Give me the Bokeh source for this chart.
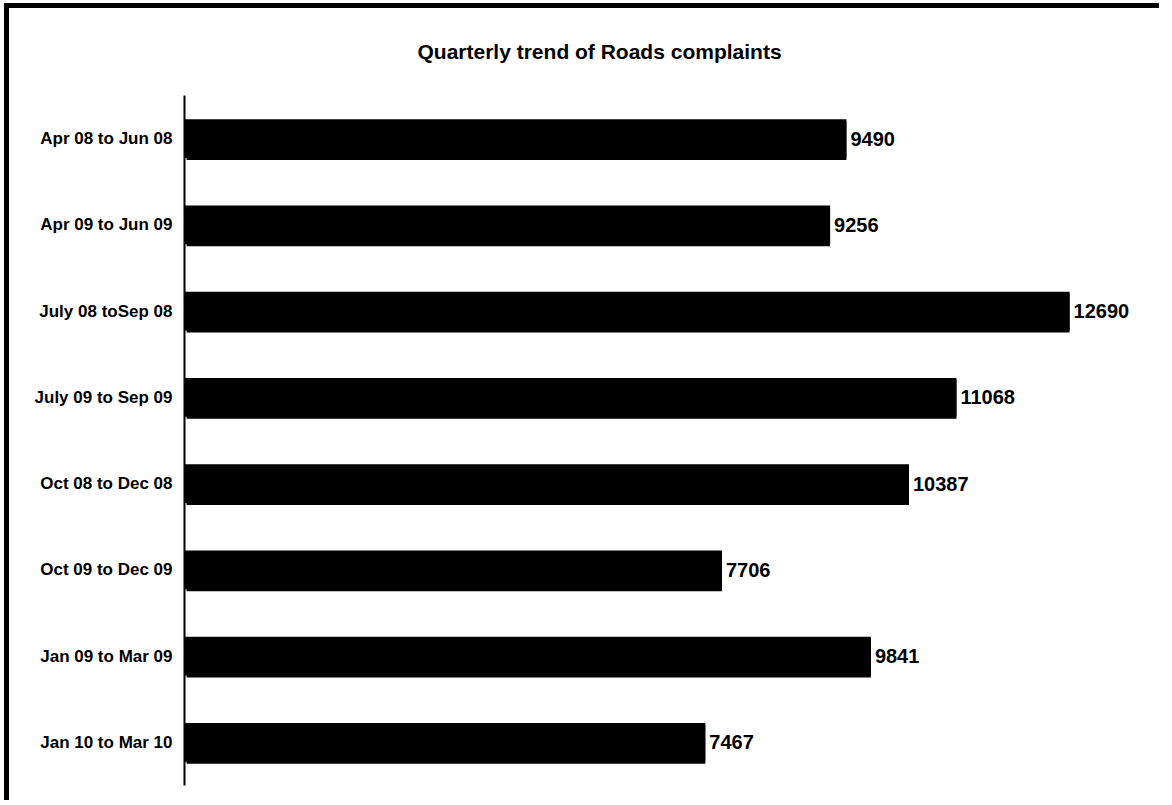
from bokeh.plotting import figure
from bokeh.models import FactorRange, Range1d, ColumnDataSource, LabelSet
from bokeh.core.properties import value
from bokeh.transform import dodge
from bokeh.embed import file_html
from bokeh.resources import INLINE

periods = ["Apr 08 to Jun 08", "Apr 09 to Jun 09", "July 08 toSep 08", "July 09 to Sep 09",
           "Oct 08 to Dec 08", "Oct 09 to Dec 09", "Jan 09 to Mar 09", "Jan 10 to Mar 10"]
complaints = [9490, 9256, 12690, 11068, 10387, 7706, 9841, 7467]
title_text = "Quarterly trend of  Roads complaints"

FONT = "Liberation Sans"
W, H = 1155, 797

src = ColumnDataSource(dict(period=periods, value=complaints,
                            label=[str(v) for v in complaints]))

p = figure(width=W, height=H, output_backend="svg", toolbar_location=None,
           y_range=FactorRange(*reversed(periods), range_padding=0),
           x_range=Range1d(0, 13850),
           min_border_left=175, min_border_right=14, min_border_top=85, min_border_bottom=20,
           title=title_text)

p.stylesheets = [":host { margin-left: 9px; margin-top: 8px; box-shadow: -5px -5px 0 0 black; }"]

# shadow bar then main bar
p.hbar(y=dodge("period", -0.022, range=p.y_range), left=30, right="value", height=0.45,
       source=src, color="black", line_color=None)
p.hbar(y=dodge("period", 0.0, range=p.y_range), left=0, right="value", height=0.45,
       source=src, color="black", line_color=None)

labels = LabelSet(x="value", y="period", text="label", source=src, x_offset=4,
                  text_baseline="middle", text_font=value(FONT), text_font_style="bold",
                  text_font_size="20px", text_color="black")
p.add_layout(labels)

p.xaxis.visible = False
p.grid.visible = False
p.outline_line_color = None
p.yaxis.axis_line_color = "black"
p.yaxis.axis_line_width = 2
p.yaxis.major_tick_line_color = None
p.yaxis.minor_tick_line_color = None
p.yaxis.major_tick_out = 0
p.yaxis.major_tick_in = 0
p.yaxis.major_label_standoff = 12
p.yaxis.major_label_text_font = FONT
p.yaxis.major_label_text_font_style = "bold"
p.yaxis.major_label_text_font_size = "17px"
p.yaxis.major_label_text_color = "black"

p.title.text_font = FONT
p.title.text_font_style = "bold"
p.title.text_font_size = "21px"
p.title.align = "left"
p.title.offset = 233
p.title.standoff = 62
p.title.vertical_align = "top"
p.title.text_color = "black"

open("out.html", "w").write(file_html(p, INLINE))
